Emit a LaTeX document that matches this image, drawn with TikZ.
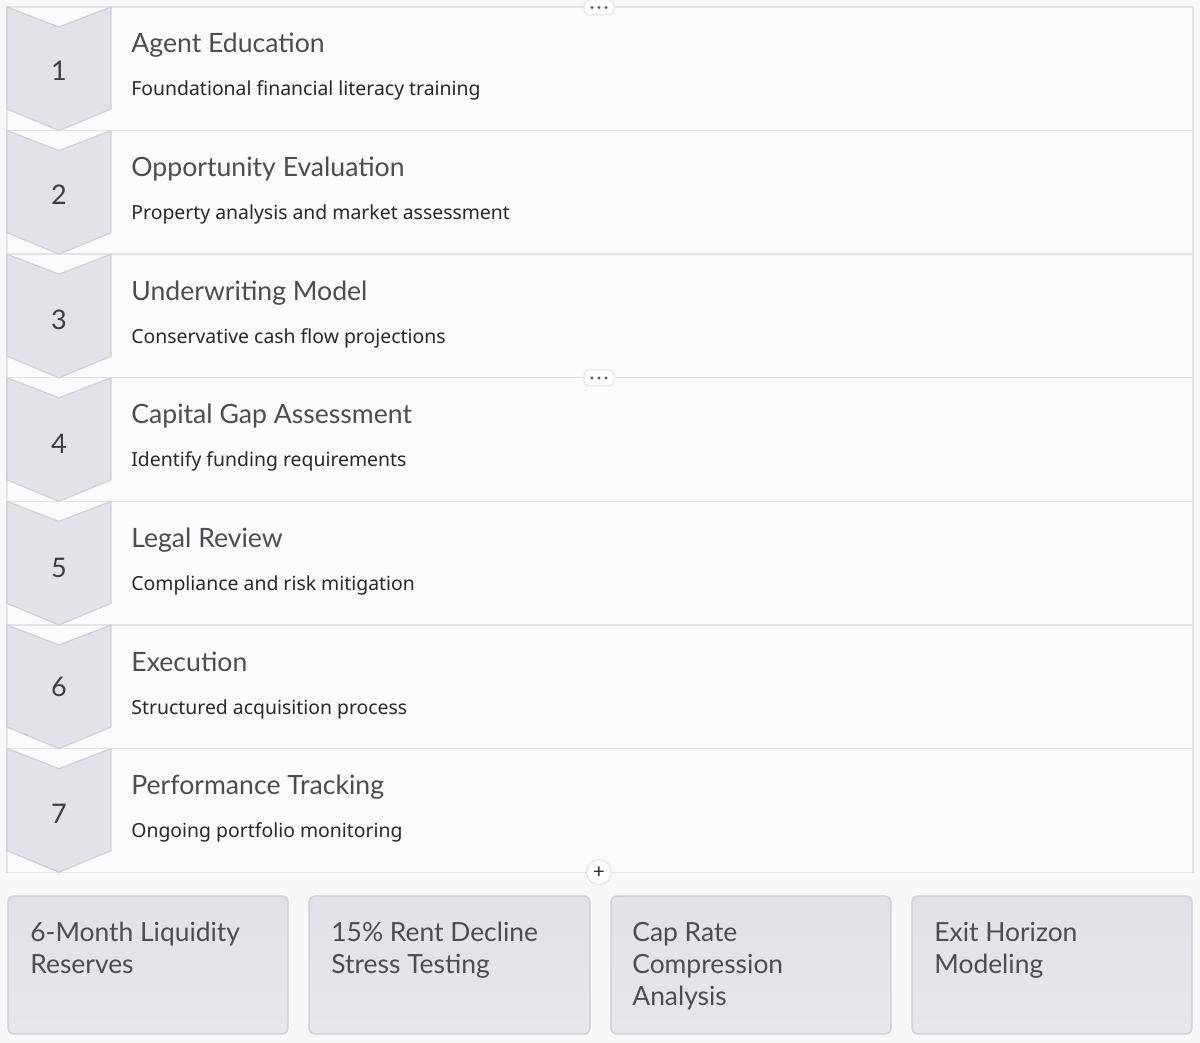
\documentclass[tikz,border=0pt]{standalone}
\usepackage{fontspec}
\setmainfont{Lato}
\newfontfamily\descfont{Noto Sans}
\begin{document}
\begin{tikzpicture}[x=0.5pt,y=-0.5pt,
    chevron/.style={fill=chevfill,draw=chevline,line width=0.6pt,line join=round},
    stepnum/.style={inner sep=0pt,anchor=center,text=numtext,font=\fontsize{13.5}{15}\selectfont},
    steptitle/.style={inner sep=0pt,anchor=base west,text=titletext,font=\fontsize{13.3}{15}\selectfont},
    stepdesc/.style={inner sep=0pt,anchor=base west,text=desctext,font=\descfont\fontsize{9.7}{12}\selectfont},
    rowline/.style={draw=rowedge,line width=0.7pt},
    factbox/.style={top color=boxtop,bottom color=boxbottom,draw=boxedge,line width=0.6pt,rounded corners=3pt},
    facttext/.style={inner sep=0pt,anchor=north west,align=left,text=titletext,font=\fontsize{13.2}{16}\selectfont},
    pill/.style={fill=white,draw=rowedge,line width=0.5pt,rounded corners=2.5pt},
    pilldot/.style={fill=dotgray,draw=none}]
                        \definecolor{pagebg}{HTML}{F7F8FA}%
                        \definecolor{rowbg}{HTML}{FAFBFC}%
                        \definecolor{rowedge}{HTML}{E2E4E8}%
                        \definecolor{chevfill}{HTML}{E1E3E8}%
                        \definecolor{chevline}{HTML}{CDD0D6}%
                        \definecolor{numtext}{HTML}{3C3F45}%
                        \definecolor{titletext}{HTML}{4A4D53}%
                        \definecolor{desctext}{HTML}{26282C}%
                        \definecolor{boxtop}{HTML}{E0E2E7}%
                        \definecolor{boxbottom}{HTML}{E5E7EB}%
                        \definecolor{boxedge}{HTML}{C9CCD2}%
                        \definecolor{dotgray}{HTML}{5A5D63}%

                        % Fixing page size
                        \useasboundingbox [fill=pagebg] (0,0) rectangle (1200,1043);%

                        % Drawing step panel
                        \draw [rowline,fill=rowbg] (7,7) rectangle (1193,872.2);%
                        \draw [rowline] (7,130.6) -- (1193,130.6);%
                        \draw [rowline] (7,254.2) -- (1193,254.2);%
                        \draw [rowline] (7,377.8) -- (1193,377.8);%
                        \draw [rowline] (7,501.4) -- (1193,501.4);%
                        \draw [rowline] (7,625.0) -- (1193,625.0);%
                        \draw [rowline] (7,748.6) -- (1193,748.6);%

                        % Drawing step 1
                        \draw [chevron] (7,7.0) -- (59,27.0) -- (111,7.0) -- (111,109.0) -- (59,130.6) -- (7,109.0) -- cycle;%
                        \node [stepnum] (num1) at (59,71) {1};%
                        \node [steptitle] (title1) at (131,53.0) {Agent Education};%
                        \node [stepdesc] (desc1) at (131,96.0) {Foundational financial literacy training};%

                        % Drawing step 2
                        \draw [chevron] (7,130.6) -- (59,150.6) -- (111,130.6) -- (111,232.6) -- (59,254.2) -- (7,232.6) -- cycle;%
                        \node [stepnum] (num2) at (59,195) {2};%
                        \node [steptitle] (title2) at (131,176.6) {Opportunity Evaluation};%
                        \node [stepdesc] (desc2) at (131,219.6) {Property analysis and market assessment};%

                        % Drawing step 3
                        \draw [chevron] (7,254.2) -- (59,274.2) -- (111,254.2) -- (111,356.2) -- (59,377.8) -- (7,356.2) -- cycle;%
                        \node [stepnum] (num3) at (59,320) {3};%
                        \node [steptitle] (title3) at (131,300.2) {Underwriting Model};%
                        \node [stepdesc] (desc3) at (131,343.2) {Conservative cash flow projections};%

                        % Drawing step 4
                        \draw [chevron] (7,377.8) -- (59,397.8) -- (111,377.8) -- (111,479.8) -- (59,501.4) -- (7,479.8) -- cycle;%
                        \node [stepnum] (num4) at (59,444) {4};%
                        \node [steptitle] (title4) at (131,423.8) {Capital Gap Assessment};%
                        \node [stepdesc] (desc4) at (131,466.8) {Identify funding requirements};%

                        % Drawing step 5
                        \draw [chevron] (7,501.4) -- (59,521.4) -- (111,501.4) -- (111,603.4) -- (59,625.0) -- (7,603.4) -- cycle;%
                        \node [stepnum] (num5) at (59,568) {5};%
                        \node [steptitle] (title5) at (131,547.4) {Legal Review};%
                        \node [stepdesc] (desc5) at (131,590.4) {Compliance and risk mitigation};%

                        % Drawing step 6
                        \draw [chevron] (7,625.0) -- (59,645.0) -- (111,625.0) -- (111,727.0) -- (59,748.6) -- (7,727.0) -- cycle;%
                        \node [stepnum] (num6) at (59,687) {6};%
                        \node [steptitle] (title6) at (131,671.0) {Execution};%
                        \node [stepdesc] (desc6) at (131,714.0) {Structured acquisition process};%

                        % Drawing step 7
                        \draw [chevron] (7,748.6) -- (59,768.6) -- (111,748.6) -- (111,850.6) -- (59,872.2) -- (7,850.6) -- cycle;%
                        \node [stepnum] (num7) at (59,814) {7};%
                        \node [steptitle] (title7) at (131,794.6) {Performance Tracking};%
                        \node [stepdesc] (desc7) at (131,837.6) {Ongoing portfolio monitoring};%

                        % Marking panel buttons
                        \draw [pill] (584,0) rectangle (614,15);%
                        \fill [pilldot] (592,7.5) circle (1.6) (599,7.5) circle (1.6) (606,7.5) circle (1.6);%
                        \draw [pill] (584,370) rectangle (614,386);%
                        \fill [pilldot] (592,378) circle (1.6) (599,378) circle (1.6) (606,378) circle (1.6);%
                        \draw [fill=white,draw=rowedge,line width=0.6pt] (599,872.2) circle (12.5);%
                        \node [inner sep=0pt,text=desctext,font=\fontsize{10}{10}\selectfont] (add) at (599,872.2) {+};%

                        % Drawing key figures
                        \draw [factbox] (8,896) rectangle (288,1034);%
                        \node [facttext] (fact1) at (30,922) {6-Month Liquidity\\Reserves};%
                        \draw [factbox] (309,896) rectangle (590,1034);%
                        \node [facttext] (fact2) at (331,922) {15\% Rent Decline\\Stress Testing};%
                        \draw [factbox] (611,896) rectangle (891,1034);%
                        \node [facttext] (fact3) at (632,922) {Cap Rate\\Compression\\Analysis};%
                        \draw [factbox] (912,896) rectangle (1192,1034);%
                        \node [facttext] (fact4) at (934,922) {Exit Horizon\\Modeling};%
                    \end{tikzpicture}
\end{document}
